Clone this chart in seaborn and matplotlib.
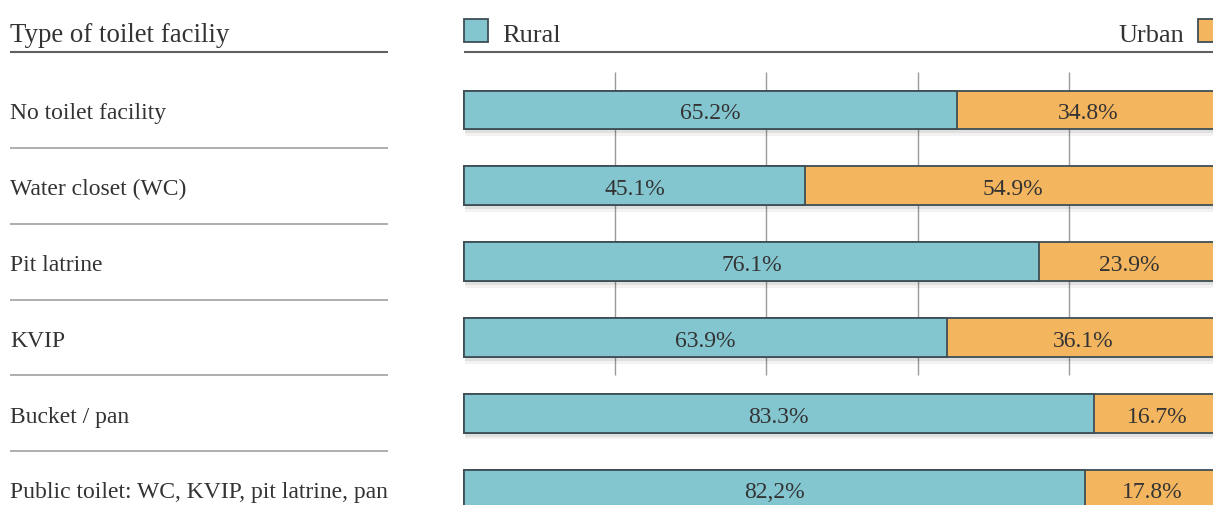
import matplotlib
matplotlib.use("Agg")
import matplotlib.pyplot as plt
import matplotlib.patheffects as pe
from matplotlib.patches import Rectangle
import seaborn as sns
import pandas as pd

# ---- data ----
categories = ["No toilet facility", "Water closet (WC)", "Pit latrine", "KVIP",
              "Bucket / pan", "Public toilet: WC, KVIP, pit latrine, pan"]
rural = [65.2, 45.1, 76.1, 63.9, 83.3, 82.2]
urban = [34.8, 54.9, 23.9, 36.1, 16.7, 17.8]
rural_labels = ["65.2%", "45.1%", "76.1%", "63.9%", "83.3%", "82,2%"]
urban_labels = ["34.8%", "54.9%", "23.9%", "36.1%", "16.7%", "17.8%"]
grid_ticks = [20, 40, 60, 80]
header = "Type of toilet faciliy"
series_names = ["Rural", "Urban"]

# ---- style ----
sns.set_style("white")
plt.rcParams["font.family"] = ["Liberation Serif", "DejaVu Serif"]
RURAL_C = "#83C6D0"
URBAN_C = "#F4B55F"
EDGE_C = "#3E4E55"
TXT_C = "#333333"

df = pd.DataFrame({"cat": categories, "rural": rural, "urban": urban})
df["total"] = df["rural"] + df["urban"]

fig = plt.figure(figsize=(12.13, 5.05), dpi=100)
ax = fig.add_axes([0, 0, 1, 1])

shadow = [pe.SimplePatchShadow(offset=(1.0, -3.0), shadow_rgbFace="#000000", alpha=0.07),
          pe.SimplePatchShadow(offset=(0.5, -5.0), shadow_rgbFace="#000000", alpha=0.05),
          pe.Normal()]

sns.barplot(data=df, x="total", y="cat", orient="h", color=URBAN_C, saturation=1,
            width=0.51, edgecolor=EDGE_C, linewidth=1.3, ax=ax, zorder=2)
sns.barplot(data=df, x="rural", y="cat", orient="h", color=RURAL_C, saturation=1,
            width=0.51, edgecolor=EDGE_C, linewidth=1.3, ax=ax, zorder=3)
for p in ax.containers[0]:
    p.set_path_effects(shadow)

# coordinate frame: 100% spans 756 px starting at x=464 px; rows 75.8 px apart, first at 110 px
ax.set_xlim(-464 / 7.56, (1213 - 464) / 7.56)
ax.set_ylim(395 / 75.8, -110 / 75.8)
ax.set_axis_off()

# grid lines
ax.vlines(grid_ticks, -0.5, 3.5, color="#9a9a9a", lw=1.0, zorder=1)

# value labels
for i, (r, u) in enumerate(zip(rural, urban)):
    ax.text(r / 2, i + 0.123, rural_labels[i], ha="center", va="baseline",
            fontsize=17, color=TXT_C, zorder=5)
    ax.text(r + u / 2, i + 0.123, urban_labels[i], ha="center", va="baseline",
            fontsize=17, color=TXT_C, zorder=5)

# left column
x_left = (10 - 464) / 7.56
x_left_end = (388 - 464) / 7.56
for i, c in enumerate(categories):
    ax.text(x_left, i + 0.123, c, ha="left", va="baseline", fontsize=17, color=TXT_C)
for i in range(len(categories) - 1):
    ax.plot([x_left, x_left_end], [i + 0.5, i + 0.5], color="#a8a8a8", lw=1.3,
            solid_capstyle="butt")

# header
y_head_line = (52 - 110) / 75.8
y_head_base = (41.5 - 110) / 75.8
ax.text(x_left, y_head_base, header, ha="left", va="baseline", fontsize=19.4, color=TXT_C)
ax.plot([x_left, x_left_end], [y_head_line, y_head_line], color="#606060", lw=1.5,
        solid_capstyle="butt")
ax.plot([0, 102], [y_head_line, y_head_line], color="#606060", lw=1.5,
        solid_capstyle="butt", clip_on=False)

# legend
sq_w = 24 / 7.56
sq_top = (19 - 110) / 75.8
sq_h = 23 / 75.8
ax.add_patch(Rectangle((0, sq_top), sq_w, sq_h, facecolor=RURAL_C, edgecolor=EDGE_C, lw=1.3))
ax.text((502 - 464) / 7.56, y_head_base, series_names[0], ha="left", va="baseline",
        fontsize=19, color=TXT_C)
ax.add_patch(Rectangle(((1198 - 464) / 7.56, sq_top), sq_w, sq_h, facecolor=URBAN_C,
                       edgecolor=EDGE_C, lw=1.3))
ax.text((1184 - 464) / 7.56, y_head_base, series_names[1], ha="right", va="baseline",
        fontsize=19, color=TXT_C)

fig.savefig("out.png", dpi=100)
